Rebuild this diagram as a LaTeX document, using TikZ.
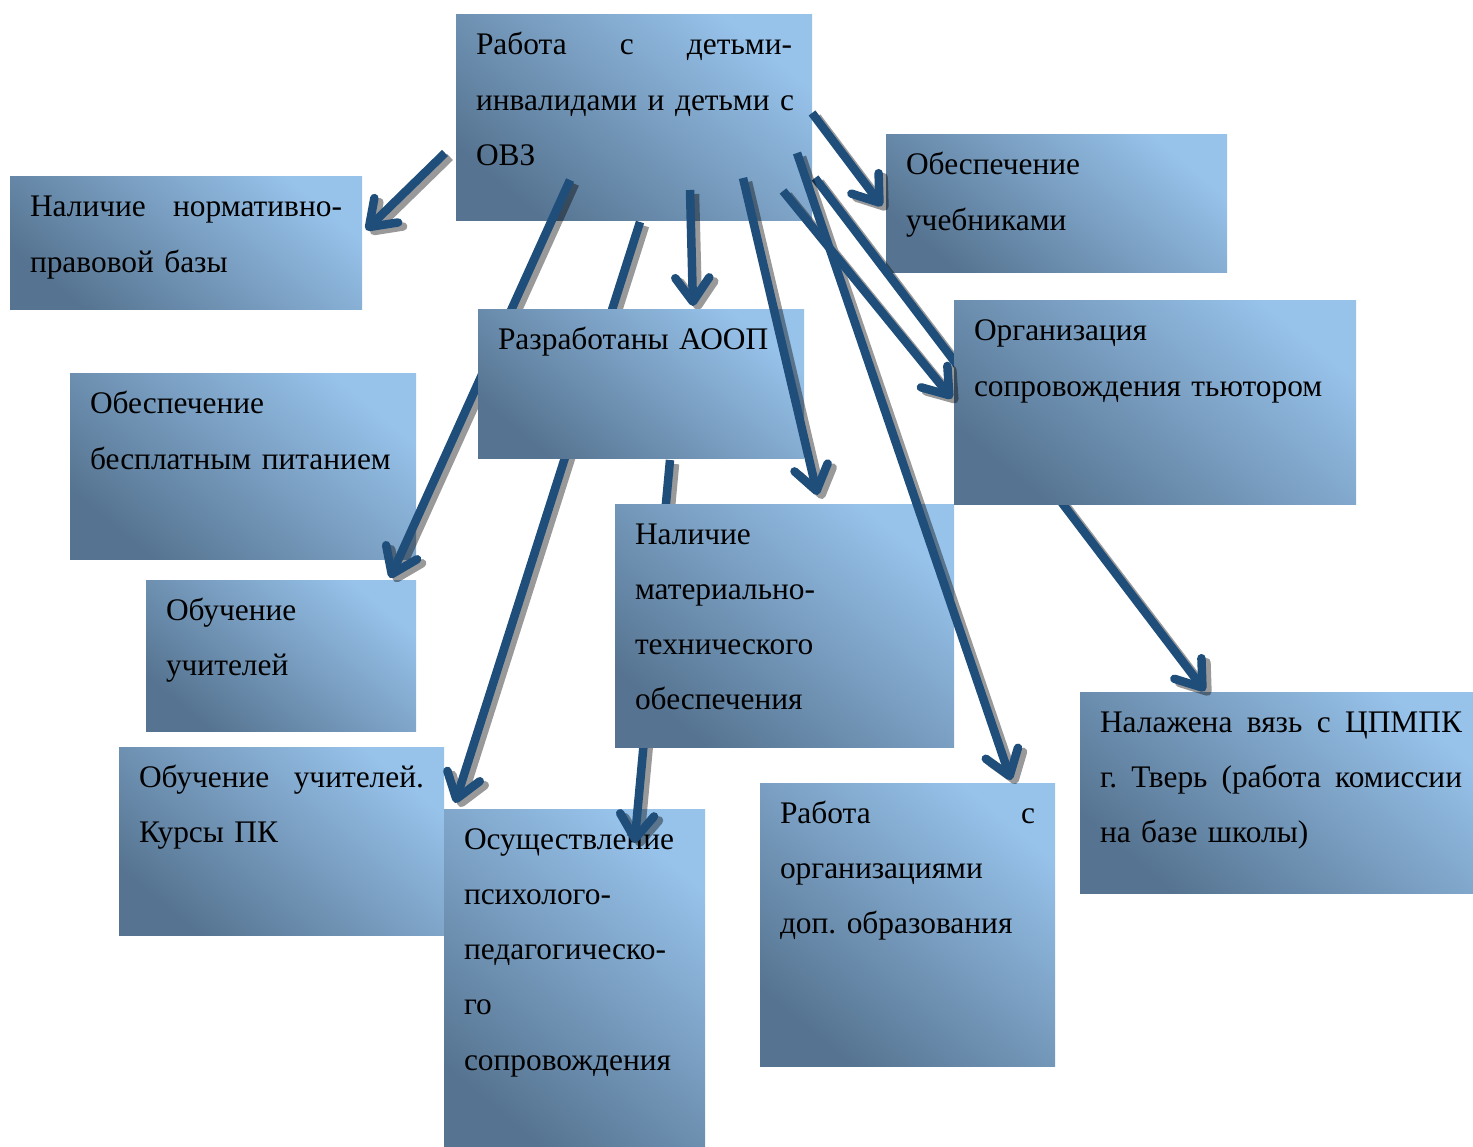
\documentclass[tikz,border=0pt]{standalone}
\usepackage{fontspec}
\setmainfont{Liberation Serif}
\usetikzlibrary{calc,arrows.meta}
\definecolor{boxlight}{RGB}{151,194,234}
\definecolor{boxdark}{RGB}{86,116,145}
\definecolor{arrblue}{RGB}{31,78,122}
\newcommand\jsp{\nobreak\hfill}
\pgfdeclarelayer{under}
\pgfsetlayers{under,main}

\begin{document}
\begin{tikzpicture}[x=1pt,y=-1pt,
  box/.style={anchor=north west,inner xsep=20pt,inner ysep=0pt,outer sep=0pt,
    align=left,text height=40pt,font=\fontsize{31.4}{55.3}\selectfont,
    top color=boxlight,bottom color=boxdark,shading angle=-40},
  arr/.style={line width=8.5pt,arrblue,-{Straight Barb[round,length=24pt,width=34pt]}},
  shad/.style={arr,black}]
\useasboundingbox (0,0) rectangle (1473,1147);
\node[box,text width=286pt,text depth=109pt] (aoop) at (478,310) {Разработаны~АООП};
\node[box,text width=299pt,text depth=203pt] (mto) at (615,504) {Наличие\\материально-\\технического\\обеспечения};
\node[box,text width=362pt,text depth=163pt] (tutor) at (954,301) {Организация\\сопровождения~тьютором};

\begin{pgfonlayer}{under}
\node[box,text width=316pt,text depth=166pt] (main) at (456,15) {Работа\jsp с\jsp детьми-\\инвалидами~и~детьми~с\\ОВЗ};
\node[box,text width=312pt,text depth=93pt] (norm) at (10,177) {Наличие\jsp нормативно-\\правовой~базы};
\node[box,text width=301pt,text depth=98pt] (ucheb) at (886,135) {Обеспечение\\учебниками};
\node[box,text width=306pt,text depth=145pt] (pitan) at (70,374) {Обеспечение\\бесплатным~питанием};
\node[box,text width=230pt,text depth=111pt] (uchit) at (146,580) {Обучение\\учителей};
\node[box,text width=285pt,text depth=148pt] (kursy) at (119,747) {Обучение\jsp учителей.\\Курсы~ПК};
\node[box,text width=221pt,text depth=298pt] (ppsopr) at (444,809) {Осуществление\\психолого-\\педагогическо-\\го\\сопровождения};
\node[box,text width=255pt,text depth=243pt] (dopobr) at (760,783) {Работа\jsp с\\организациями\\доп.~образования};
\node[box,text width=362pt,text depth=161pt] (cpmpk) at (1080,692) {Налажена\jsp вязь\jsp с\jsp ЦПМПК\\г.\jsp Тверь\jsp (работа\jsp комиссии\\на~базе~школы)};

\begin{scope}[transparency group,opacity=.4,transform canvas={shift={(5pt,-4pt)}}]
\draw[shad] ($(main.south)+(-64,-41)$) -- ($(uchit.north east)+(-26,-2)$);
\draw[shad] ($(main.south)+(6,1)$) -- ($(ppsopr.north west)+(11,-6)$);
\draw[shad] ($(main.south)+(56,-31)$) -- ($(aoop.north)+(52,-4)$);
\draw[shad] ($(aoop.south)+(29,1)$) -- ($(ppsopr.north)+(60,34)$);
\draw[shad] ($(main.south east)+(3,-43)$) -- ($(cpmpk.north west)+(125,-1)$);
\end{scope}
\draw[arr] ($(main.south)+(-64,-41)$) -- ($(uchit.north east)+(-26,-2)$);
\draw[arr] ($(main.south)+(6,1)$) -- ($(ppsopr.north west)+(11,-6)$);
\draw[arr] ($(main.south)+(56,-31)$) -- ($(aoop.north)+(52,-4)$);
\draw[arr] ($(aoop.south)+(29,1)$) -- ($(ppsopr.north)+(60,34)$);
\draw[arr] ($(main.south east)+(3,-43)$) -- ($(cpmpk.north west)+(125,-1)$);
\end{pgfonlayer}

\begin{scope}[transparency group,opacity=.4,transform canvas={shift={(5pt,-4pt)}}]
\draw[shad] ($(main.west)+(-11,35)$) -- ($(norm.north east)+(4,53)$);
\draw[shad] ($(main.south)+(109,-43)$) -- ($(mto.north)+(33,-9)$);
\draw[shad] ($(main.south east)+(-15,-68)$) -- ($(dopobr.north east)+(-44,-3)$);
\draw[shad] ($(main.south east)+(-29,-30)$) -- ($(tutor.west)+(-2,-4)$);
\draw[shad] ($(main.east)+(0,-5)$) -- ($(ucheb.west)+(-4,2)$);
\end{scope}
\draw[arr] ($(main.west)+(-11,35)$) -- ($(norm.north east)+(4,53)$);
\draw[arr] ($(main.south)+(109,-43)$) -- ($(mto.north)+(33,-9)$);
\draw[arr] ($(main.south east)+(-15,-68)$) -- ($(dopobr.north east)+(-44,-3)$);
\draw[arr] ($(main.south east)+(-29,-30)$) -- ($(tutor.west)+(-2,-4)$);
\draw[arr] ($(main.east)+(0,-5)$) -- ($(ucheb.west)+(-4,2)$);
\end{tikzpicture}
\end{document}
